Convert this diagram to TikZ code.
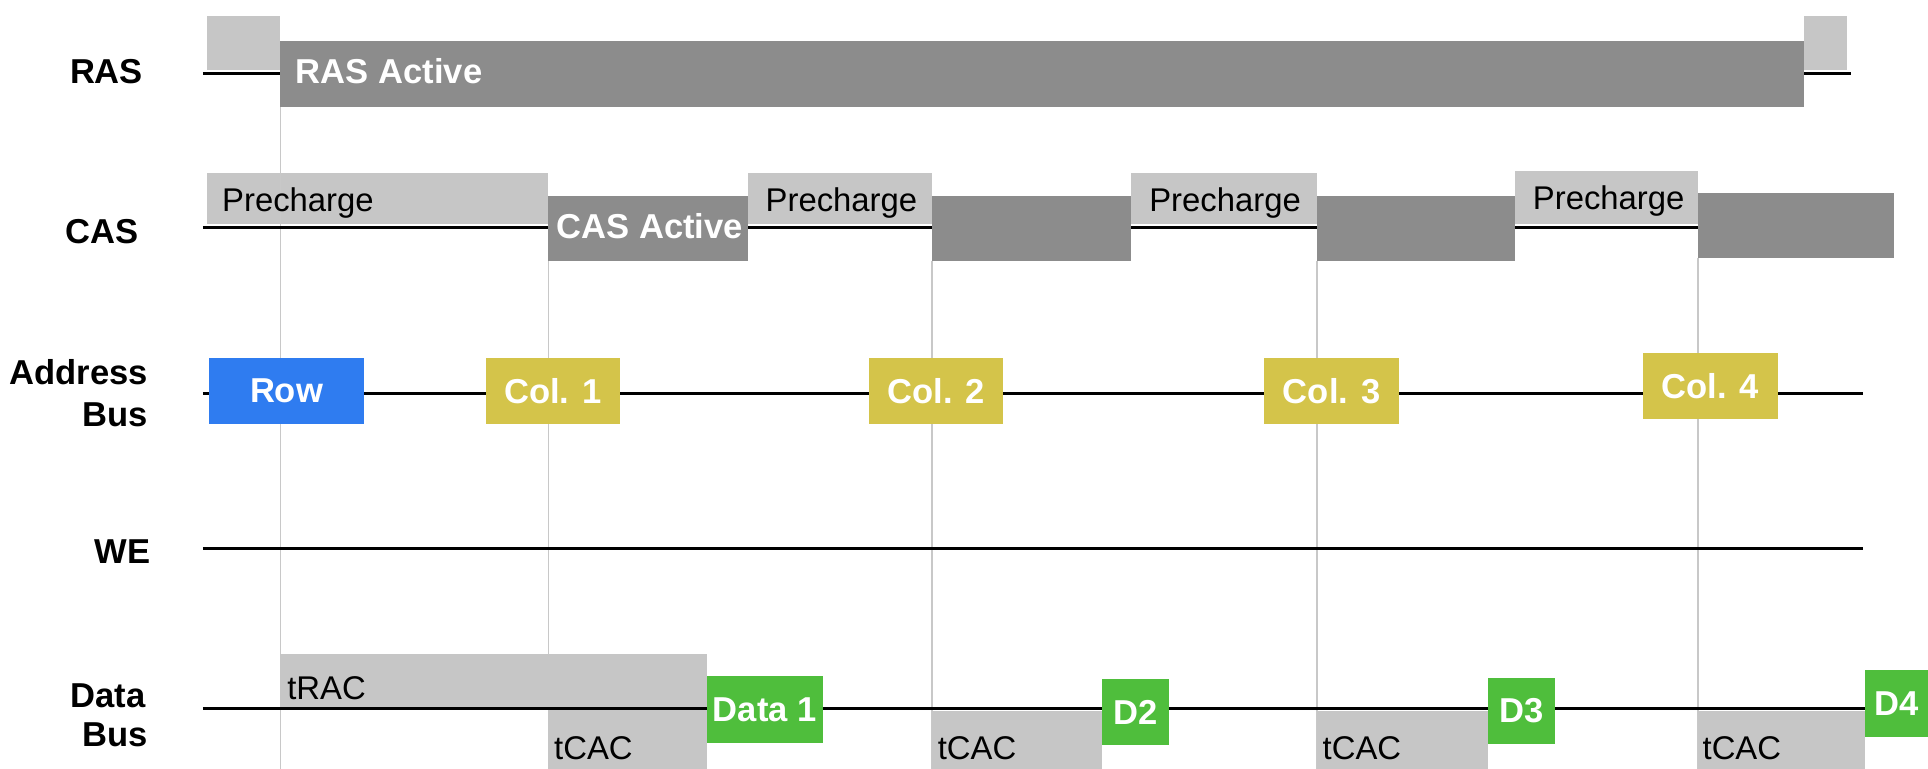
\documentclass[tikz,border=0pt]{standalone}
\usepackage{fontspec}
\setmainfont{Liberation Sans}
\usetikzlibrary{fit}

\definecolor{shade}{HTML}{C6C6C6}
\definecolor{active}{HTML}{8C8C8C}
\definecolor{rowblue}{HTML}{2F7CF0}
\definecolor{colgold}{HTML}{D4C44A}
\definecolor{datagreen}{HTML}{4FBE3C}
\definecolor{guide}{HTML}{C8C8C8}

\begin{document}
\begin{tikzpicture}[x=0.1mm,y=-0.1mm,
  sig/.style={line width=0.75pt, black},
  guideline/.style={line width=0.35pt, guide},
  span/.style={inner sep=0pt, outer sep=0pt, draw=none},
  idle/.style={span, fill=shade},
  busy/.style={span, fill=active},
  boldwhite/.style={text=white, font=\bfseries\fontsize{8}{9.6}\selectfont},
  rowbox/.style={span, fill=rowblue},
  colbox/.style={span, fill=colgold},
  databox/.style={span, fill=datagreen},
  value/.style={boldwhite, inner sep=0pt, anchor=center},
  signame/.style={font=\bfseries\fontsize{8}{9.6}\selectfont, anchor=base east, inner sep=0pt},
  phase/.style={font=\fontsize{7.6}{9}\selectfont, anchor=base west, inner sep=0pt},
  phasebold/.style={boldwhite, anchor=base west, inner sep=0pt},
]
\useasboundingbox (0,0) rectangle (1568,625);
\coordinate (floor) at (0,625);

% ---- signal names
\node[signame] (lras) at (117,68) {RAS};
\node[signame] (lcas) at (113,198) {CAS};
\node[signame] (laddr1) at (121,313) {Address};
\node[signame] (laddr2) at (121,347) {Bus};
\node[signame] (lwe) at (123,458) {WE};
\node[signame] (ldata1) at (119,575) {Data};
\node[signame] (ldata2) at (121,607) {Bus};

% ---- light (inactive / timing) spans
\node[idle, fit={(168,13) (228,57)}] (rasPre) {};
\node[idle, fit={(1467,13) (1502,57)}] (rasPost) {};
\node[idle, fit={(168,141) (446,182)}] (pre1) {};
\node[idle, fit={(608,141) (758,182)}] (pre2) {};
\node[idle, fit={(920,141) (1071,182)}] (pre3) {};
\node[idle, fit={(1232,139) (1381,182)}] (pre4) {};

% ---- active spans
\node[busy, fit={(228,33) (1467,87)}] (rasAct) {};
\node[busy, fit={(446,159) (608,212)}] (act1) {};
\node[busy, fit={(758,159) (920,212)}] (act2) {};
\node[busy, fit={(1071,159) (1232,212)}] (act3) {};
\node[busy, fit={(1381,157) (1540,210)}] (act4) {};

% ---- vertical guides
\draw[guideline] (rasAct.south west) -- (rasAct.south west |- floor);
\draw[guideline] (act1.south west) -- (act1.south west |- floor);
\draw[guideline] (act2.south west) -- (act2.south west |- floor);
\draw[guideline] (act3.south west) -- (act3.south west |- floor);
\draw[guideline] (act4.south west) -- (act4.south west |- floor);

% ---- data-bus timing spans
\node[idle, fit={(228,532) (575,576)}] (trac) {};
\node[idle, fit={(446,576) (575,625)}] (tcac1) {};
\node[idle, fit={(758,578) (896,625)}] (tcac2) {};
\node[idle, fit={(1071,578) (1210,625)}] (tcac3) {};
\node[idle, fit={(1381,578) (1517,625)}] (tcac4) {};

% ---- signal lines
\coordinate (rasL) at (165,60);  \coordinate (rasR) at (1505,60);
\coordinate (casL) at (165,185); \coordinate (casR) at (1540,185);
\coordinate (adrL) at (165,320); \coordinate (adrR) at (1515,320);
\coordinate (weL)  at (165,446); \coordinate (weR)  at (1515,446);
\coordinate (datL) at (165,576); \coordinate (datR) at (1517,576);
\draw[sig] (rasL) -- (rasR);
\draw[sig] (casL) -- (casR);
\draw[sig] (adrL) -- (adrR);
\draw[sig] (weL) -- (weR);
\draw[sig] (datL) -- (datR);

% ---- active spans redrawn on top of the lines
\fill[active] (rasAct.north west) rectangle (rasAct.south east);
\fill[active] (act1.north west) rectangle (act1.south east);
\fill[active] (act2.north west) rectangle (act2.south east);
\fill[active] (act3.north west) rectangle (act3.south east);
\fill[active] (act4.north west) rectangle (act4.south east);

% ---- address bus values
\node[rowbox, fit={(170,291) (296,345)}] (row) {};
\node[colbox, fit={(395,291) (504,345)}] (col1) {};
\node[colbox, fit={(707,291) (816,345)}] (col2) {};
\node[colbox, fit={(1028,291) (1138,345)}] (col3) {};
\node[colbox, fit={(1336,287) (1446,341)}] (col4) {};
\node[value] (trow) at (row.center) {Row};
\node[value] (tcol1) at (col1.center) {Col. 1};
\node[value] (tcol2) at (col2.center) {Col. 2};
\node[value] (tcol3) at (col3.center) {Col. 3};
\node[value] (tcol4) at (col4.center) {Col. 4};

% ---- data bus values
\node[databox, fit={(575,550) (669,604)}] (d1) {};
\node[databox, fit={(896,552) (951,606)}] (d2) {};
\node[databox, fit={(1210,551) (1265,605)}] (d3) {};
\node[databox, fit={(1517,545) (1568,599)}] (d4) {};
\node[value] (td1) at (d1.center) {Data 1};
\node[value] (td2) at (d2.center) {D2};
\node[value] (td3) at (d3.center) {D3};
\node[value] (td4) at (d4.center) {D4};

% ---- span captions
\node[phasebold] (trasAct) at (240,68) {RAS Active};
\node[phasebold] (tcasAct) at (452,194) {CAS Active};
\node[phase] (tpre1) at (180,172) {Precharge};
\node[phase] (tpre2) at (622,172) {Precharge};
\node[phase] (tpre3) at (934,172) {Precharge};
\node[phase] (tpre4) at (1246,170) {Precharge};
\node[phase] (ttrac) at (233,569) {tRAC};
\node[phase] (ttcac1) at (450,618) {tCAC};
\node[phase] (ttcac2) at (762,618) {tCAC};
\node[phase] (ttcac3) at (1075,618) {tCAC};
\node[phase] (ttcac4) at (1384,618) {tCAC};
\end{tikzpicture}
\end{document}
